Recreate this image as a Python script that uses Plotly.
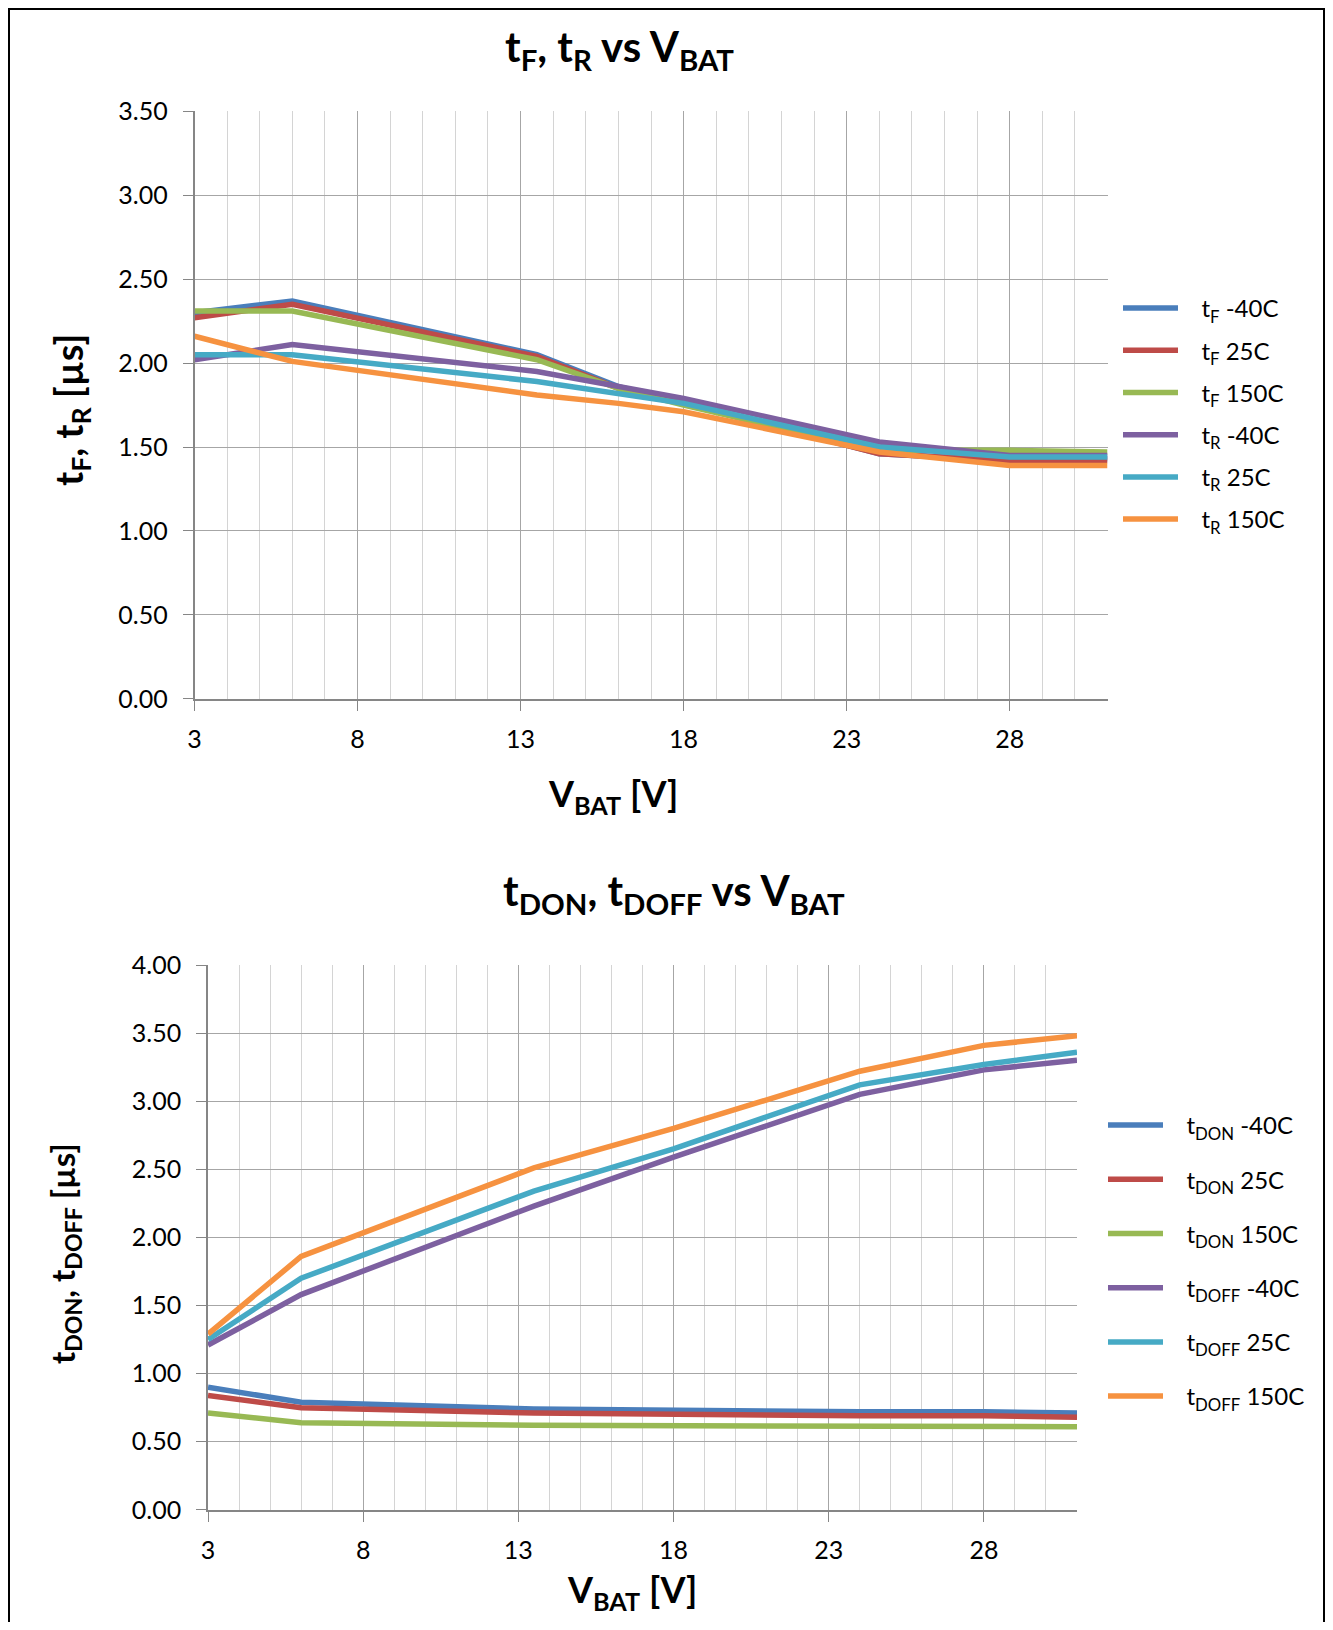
import plotly.graph_objects as go

# ---- data ----
vbat_top = [3, 6, 13.5, 16, 18, 24, 28, 31]
tf_m40 = [2.30, 2.37, 2.05, 1.86, 1.77, 1.46, 1.42, 1.43]
tf_25 = [2.27, 2.35, 2.04, 1.85, 1.76, 1.46, 1.42, 1.42]
tf_150 = [2.31, 2.31, 2.02, 1.85, 1.75, 1.48, 1.48, 1.47]
tr_m40 = [2.02, 2.11, 1.95, 1.86, 1.79, 1.53, 1.45, 1.45]
tr_25 = [2.05, 2.05, 1.89, 1.82, 1.76, 1.50, 1.44, 1.44]
tr_150 = [2.16, 2.01, 1.81, 1.76, 1.71, 1.47, 1.39, 1.39]

vbat_bot = [3, 6, 13.5, 18, 24, 28, 31]
tdon_m40 = [0.90, 0.79, 0.74, 0.73, 0.72, 0.72, 0.71]
tdon_25 = [0.84, 0.75, 0.71, 0.70, 0.69, 0.69, 0.68]
tdon_150 = [0.71, 0.64, 0.62, 0.62, 0.61, 0.61, 0.61]
tdoff_m40 = [1.21, 1.58, 2.23, 2.59, 3.05, 3.23, 3.30]
tdoff_25 = [1.25, 1.70, 2.34, 2.65, 3.12, 3.27, 3.36]
tdoff_150 = [1.29, 1.86, 2.51, 2.80, 3.22, 3.41, 3.48]

top_names = ['t<sub>F</sub> -40C', 't<sub>F</sub> 25C', 't<sub>F</sub> 150C',
             't<sub>R</sub> -40C', 't<sub>R</sub> 25C', 't<sub>R</sub> 150C']
bot_names = ['t<sub>DON</sub> -40C', 't<sub>DON</sub> 25C', 't<sub>DON</sub> 150C',
             't<sub>DOFF</sub> -40C', 't<sub>DOFF</sub> 25C', 't<sub>DOFF</sub> 150C']

colors = ['#4A7EBB', '#BE4B48', '#98B954', '#7D60A0', '#46AAC5', '#F69240']

# page is 1333x1630, the html body adds an 8px margin around the figure
OFF = 8
W, H = 1333 - 2 * OFF, 1630 - 2 * OFF
FONT = 'Lato'
GAP = '&nbsp;&nbsp;&nbsp;'


def px(x):
    # page pixel -> paper fraction
    return (x - OFF) / W


def py(y):
    return 1 - (y - OFF) / H


fig = go.Figure()

top_series = [tf_m40, tf_25, tf_150, tr_m40, tr_25, tr_150]
for i, (name, ys) in enumerate(zip(top_names, top_series)):
    fig.add_trace(go.Scatter(x=vbat_top, y=ys, name=GAP + name, mode='lines',
                             line=dict(color=colors[i], width=5.5),
                             xaxis='x', yaxis='y', legend='legend',
                             legendgroup=f'top{i}'))

bot_series = [tdon_m40, tdon_25, tdon_150, tdoff_m40, tdoff_25, tdoff_150]
for i, (name, ys) in enumerate(zip(bot_names, bot_series)):
    fig.add_trace(go.Scatter(x=vbat_bot, y=ys, name=GAP + name, mode='lines',
                             line=dict(color=colors[i], width=5.5),
                             xaxis='x2', yaxis='y2', legend='legend2',
                             legendgroup=f'bot{i}'))

# axes styling shared by both plots
xstyle = dict(range=[3, 31], tick0=3, dtick=5, showgrid=True, gridcolor='#A6A6A6',
              minor=dict(tick0=3, dtick=1, showgrid=True, gridcolor='#D4D4D4', ticklen=0),
              showline=True, linecolor='#868686', linewidth=1.5,
              ticks='outside', ticklen=10, tickcolor='#868686',
              ticklabelstandoff=7, zeroline=False, automargin=False,
              tickfont=dict(family=FONT, size=25, color='black'))
ystyle = dict(dtick=0.5, tickformat='.2f', showgrid=True, gridcolor='#A6A6A6',
              showline=True, linecolor='#868686', linewidth=1.5,
              ticks='outside', ticklen=10, tickcolor='#868686',
              ticklabelstandoff=10, zeroline=False, automargin=False,
              tickfont=dict(family=FONT, size=25, color='black'))

fig.update_layout(
    width=W, height=H,
    margin=dict(l=0, r=0, t=0, b=0, autoexpand=False),
    paper_bgcolor='white', plot_bgcolor='white',
    font=dict(family=FONT, color='black'),
    xaxis=dict(xstyle, domain=[px(194.5), px(1107.5)], anchor='y'),
    yaxis=dict(ystyle, range=[0, 3.5], domain=[py(698.8), py(111.3)], anchor='x'),
    xaxis2=dict(xstyle, domain=[px(208), px(1077)], anchor='y2'),
    yaxis2=dict(ystyle, range=[0, 4.0], domain=[py(1509.8), py(965)], anchor='x2'),
    legend=dict(x=px(1118), y=py(286), xanchor='left', yanchor='top',
                font=dict(family=FONT, size=24), tracegroupgap=8, itemwidth=55,
                bgcolor='rgba(0,0,0,0)'),
    legend2=dict(x=px(1103), y=py(1103), xanchor='left', yanchor='top',
                 font=dict(family=FONT, size=24), tracegroupgap=20, itemwidth=55,
                 bgcolor='rgba(0,0,0,0)'),
    showlegend=True,
)

# titles and axis titles (page pixel positions)
notes = [
    ('<b>t<sub>F</sub>, t<sub>R</sub> vs V<sub>BAT</sub></b>', 619, 49, 42, 0),
    ('<b>t<sub>DON</sub>, t<sub>DOFF</sub> vs V<sub>BAT</sub></b>', 674, 893, 42, 0),
    ('<b>V<sub>BAT</sub> [V]</b>', 613, 795, 36, 0),
    ('<b>V<sub>BAT</sub> [V]</b>', 632, 1591, 36, 0),
    ('<b>t<sub>F</sub>, t<sub>R</sub> [µs]</b>', 71, 410, 38, -90),
    ('<b>t<sub>DON</sub>, t<sub>DOFF</sub> [µs]</b>', 64, 1253, 33, -90),
]
for text, x, y, size, ang in notes:
    fig.add_annotation(text=text, x=px(x), y=py(y), xref='paper', yref='paper',
                       xanchor='center', yanchor='middle', showarrow=False,
                       textangle=ang, font=dict(family=FONT, size=size, color='black'))

# outer frame: left, top and right sides (open at the bottom)
fx0, fx1, fy1 = px(9), px(1324), py(9)
fig.add_shape(type='path', xref='paper', yref='paper',
              path=f'M {fx0},-0.05 L {fx0},{fy1} L {fx1},{fy1} L {fx1},-0.05',
              line=dict(color='black', width=2))

fig.write_html('out.html')
